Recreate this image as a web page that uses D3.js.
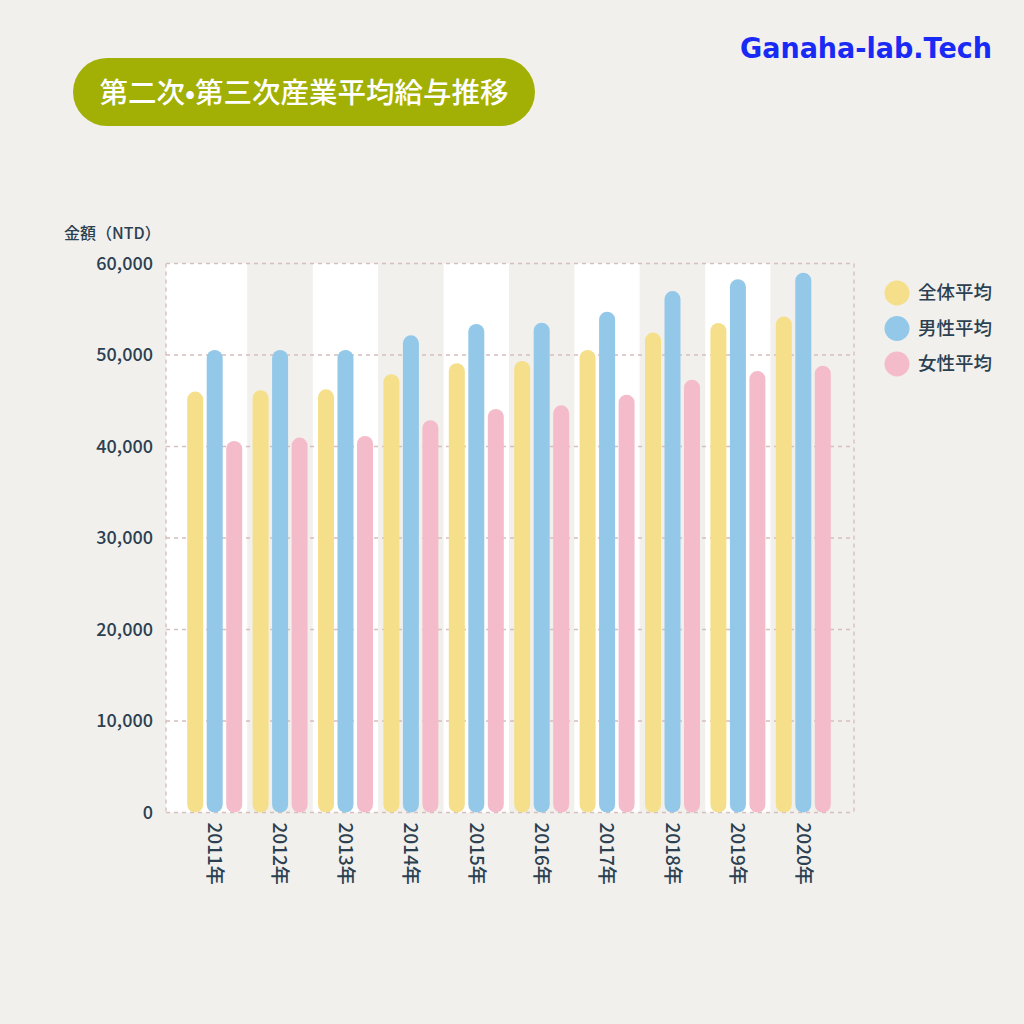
<!DOCTYPE html>
<html><head><meta charset="utf-8">
<script src="https://cdn.jsdelivr.net/npm/d3@7"></script>
<style>
html,body{margin:0;padding:0;background:#f1f0ed;}
svg{display:block;}
</style></head>
<body>
<svg id="chart" width="1024" height="1024"></svg>
<script>
const title = "第二次•第三次産業平均給与推移";
const brand = "Ganaha-lab.Tech";
const yLabel = "金額（NTD）";
const years = ["2011年","2012年","2013年","2014年","2015年","2016年","2017年","2018年","2019年","2020年"];
const seriesNames = ["全体平均","男性平均","女性平均"];
const seriesColors = ["#f5df8a","#93c8e8","#f4bccb"];
const totalAvg  = [46000,46150,46250,47900,49100,49350,50550,52450,53500,54200];
const maleAvg   = [50550,50550,50550,52150,53400,53530,54730,56990,58280,59000];
const femaleAvg = [40600,40970,41150,42880,44100,44500,45660,47300,48250,48830];
const yTicks = [0,10000,20000,30000,40000,50000,60000];

const seriesData = [totalAvg, maleAvg, femaleAvg];
const svg = d3.select("#chart");
const textColor = "#2b4050";
const font = "'Noto Sans CJK JP','Noto Sans',sans-serif";

svg.append("rect").attr("width",1024).attr("height",1024).attr("fill","#f1f0ed");

// Title pill
svg.append("rect").attr("x",73).attr("y",58).attr("width",462).attr("height",68)
  .attr("rx",34).attr("fill","#a2b005");
svg.append("text").attr("x",304).attr("y",102.5).attr("text-anchor","middle")
  .attr("fill","#fff").attr("font-family",font).attr("font-size",28.5).attr("font-weight",500)
  .text(title);

// Brand
svg.append("text").attr("x",740).attr("y",58).attr("fill","#1a2af5")
  .attr("font-family","'DejaVu Sans',sans-serif").attr("font-size",28).attr("font-weight","bold")
  .attr("textLength",252).attr("lengthAdjust","spacingAndGlyphs")
  .text(brand);

const pLeft = 166, pRight = 854, pTop = 263.5, pBottom = 812.5;
const y = d3.scaleLinear().domain([0,60000]).range([pBottom, pTop]);
const x0 = d3.scaleBand().domain(years).range([182, 836]).paddingInner(0).paddingOuter(0);
const x1 = d3.scaleBand().domain(seriesNames).range([-27.5, 27.5]).paddingInner(0.1795);

// alternating background bands
years.forEach((yr,i)=>{
  let bx = x0(yr), bw = x0.bandwidth();
  if(i===0){ bw += bx-pLeft; bx = pLeft; }
  if(i===years.length-1){ bw = pRight - bx; }
  svg.append("rect").attr("x",bx).attr("y",pTop).attr("width",bw).attr("height",pBottom-pTop)
    .attr("fill", i%2===0 ? "#ffffff" : "#f1f0ed");
});

// grid
const grid = svg.append("g");
const gridColor = "#d6bfbf";
yTicks.forEach(t=>{
  grid.append("line").attr("x1",pLeft).attr("x2",pRight).attr("y1",y(t)).attr("y2",y(t))
    .attr("stroke",gridColor).attr("stroke-width",1.4).attr("stroke-dasharray","4,4");
});
[pLeft,pRight].forEach(xx=>{
  grid.append("line").attr("x1",xx).attr("x2",xx).attr("y1",pTop).attr("y2",pBottom)
    .attr("stroke",gridColor).attr("stroke-width",1.4).attr("stroke-dasharray","4,4");
});

// y axis
const yAxis = d3.axisLeft(y).tickValues(yTicks).tickFormat(d3.format(",")).tickSize(0).tickPadding(13);
const ya = svg.append("g").attr("transform",`translate(${pLeft},0)`).call(yAxis);
ya.select(".domain").remove();
ya.selectAll("text").attr("fill",textColor).attr("font-family",font).attr("font-size",18).attr("font-weight",500);

svg.append("text").attr("x",64).attr("y",239).attr("fill",textColor)
  .attr("font-family",font).attr("font-size",16).attr("font-weight",500).text(yLabel);

// x axis
const xAxis = d3.axisBottom(x0).tickSize(0).tickPadding(0);
const xa = svg.append("g").attr("transform",`translate(0,${pBottom})`).call(xAxis);
xa.select(".domain").remove();
xa.selectAll("text").attr("fill",textColor).attr("font-family",font).attr("font-size",19).attr("font-weight",500)
  .attr("transform","rotate(90)").attr("text-anchor","start").attr("x",10).attr("y",0).attr("dy","0.35em");

// bars
const barW = x1.bandwidth();
seriesNames.forEach((s,si)=>{
  svg.append("g").selectAll("rect").data(years).join("rect")
    .attr("x",(d)=>x0(d)+x0.bandwidth()/2+x1(s))
    .attr("y",(d,i)=>y(seriesData[si][i]))
    .attr("width",barW)
    .attr("height",(d,i)=>y(0)-y(seriesData[si][i]))
    .attr("rx",barW/2).attr("ry",barW/2)
    .attr("fill",seriesColors[si]);
});

// legend
const lg = svg.append("g");
seriesNames.forEach((s,i)=>{
  const cy = 293 + i*35.5;
  lg.append("circle").attr("cx",897).attr("cy",cy).attr("r",12.5).attr("fill",seriesColors[i]);
  lg.append("text").attr("x",918).attr("y",cy).attr("dy","0.35em").attr("fill",textColor)
    .attr("font-family",font).attr("font-size",18.5).attr("font-weight",500).text(s);
});
</script>
</body></html>
